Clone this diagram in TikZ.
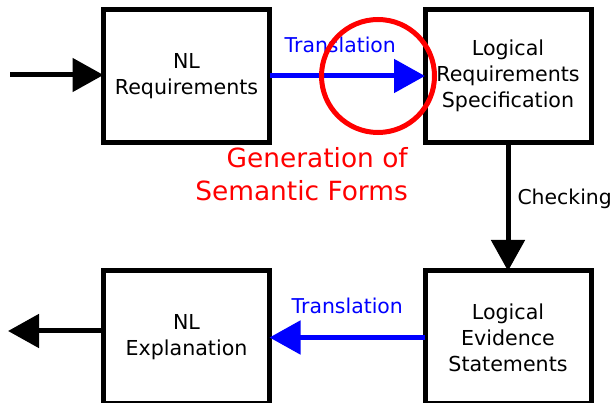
\documentclass[tikz,border=0pt]{standalone}
\usepackage{fontspec}
\setmainfont{DejaVu Sans}
\usetikzlibrary{arrows.meta}

\begin{document}
\begin{tikzpicture}[x=1pt, y=-1pt, block/.style={draw, line width=5pt, minimum width=166pt, minimum height=133pt, outer sep=0pt, align=center, font=\fontsize{20.6}{26}\selectfont}, flow/.style={line width=5pt, -{Triangle[length=31pt,width=33pt]}}, tag/.style={font=\fontsize{20.4}{24}\selectfont, inner sep=0pt}]
      \useasboundingbox (0,0) rectangle (611,403);
      \clip (0,0) rectangle (611,403);

      \node[block] (nlreq)  at (186.5, 76)    {NL\\Requirements};
      \node[block] (logreq) at (508, 76)      {Logical\\Requirements\\Specification};
      \node[block] (logev)  at (508, 337.5)   {Logical\\Evidence\\Statements};
      \node[block] (nlexp)  at (186.5, 337.5) {NL\\Explanation};

      % loose ends
      \coordinate (in) at (10, 75);
      \coordinate (out) at (8, 331);

      \draw[flow] (in) -- (nlreq.west |- in);
      \draw[flow, blue] (nlreq.east) -- (logreq.west) node [tag, midway, above=21pt, xshift=-7pt] (trtop) {Translation};
      \draw[flow] (logreq.south) -- (logev.north) node [tag, pos=0.44, right=7pt] (chk) {Checking};
      \draw[flow, blue] (logev.west) -- (nlexp.east) node [tag, midway, above=21pt] (trbot) {Translation};
      \draw[flow] (nlexp.west |- out) -- (out);

      % highlight
      \node[circle, draw=red, line width=5pt, minimum size=113pt, inner sep=0pt] (focus) at (378, 76) {};
      \node[font=\fontsize{26.4}{33}\selectfont, text=red, align=right, anchor=north east, inner sep=0pt] (semform) at (408, 147) {Generation of\\Semantic Forms};
    \end{tikzpicture}
\end{document}
